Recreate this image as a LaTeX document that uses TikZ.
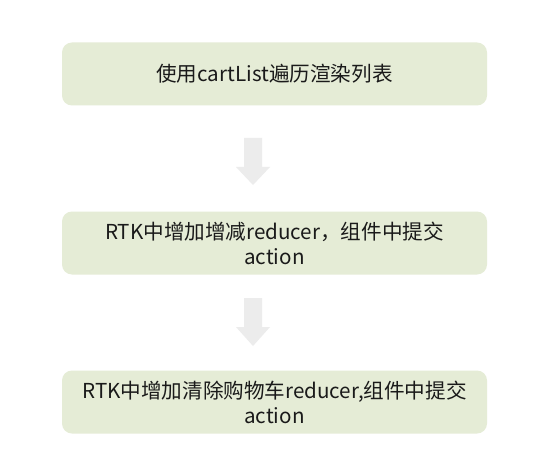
\documentclass[tikz,border=0pt]{standalone}
\usepackage{fontspec}
\setmainfont{Noto Sans CJK SC}
\usetikzlibrary{calc}
\definecolor{boxfill}{HTML}{E5ECD6}
\definecolor{arrowgray}{HTML}{ECECEC}
\definecolor{txt}{HTML}{1A1A1A}
\tikzset{
  stepbox/.style={fill=boxfill, rounded corners=10pt, minimum width=425pt, minimum height=63pt,
    inner sep=0pt, align=center, text=txt, font=\fontsize{20.6pt}{25pt}\selectfont},
  blockarrow/.style={fill=arrowgray, draw=none}
}
\begin{document}
\begin{tikzpicture}[x=1pt,y=-1pt]
\useasboundingbox[fill=white] (0,0) rectangle (534,470);
\node[stepbox] (b1) at (274.5,74) {使用cartList遍历渲染列表};
\node[stepbox] (b2) at (274.5,243) {RTK中增加增减reducer，组件中提交\\action};
\node[stepbox] (b3) at (274.5,402) {RTK中增加清除购物车reducer,组件中提交\\action};
% arrow 1
\coordinate (a1top) at (253,138);
\fill[blockarrow] ($(a1top)+(-9,0)$) -- ($(a1top)+(9,0)$) -- ($(a1top)+(9,29)$) -- ($(a1top)+(17,29)$)
  -- ($(a1top)+(0,47)$) -- ($(a1top)+(-17,29)$) -- ($(a1top)+(-9,29)$) -- cycle;
% arrow 2
\coordinate (a2top) at (253,298);
\fill[blockarrow] ($(a2top)+(-9,0)$) -- ($(a2top)+(9,0)$) -- ($(a2top)+(9,29)$) -- ($(a2top)+(17,29)$)
  -- ($(a2top)+(0,48)$) -- ($(a2top)+(-17,29)$) -- ($(a2top)+(-9,29)$) -- cycle;
\end{tikzpicture}
\end{document}
